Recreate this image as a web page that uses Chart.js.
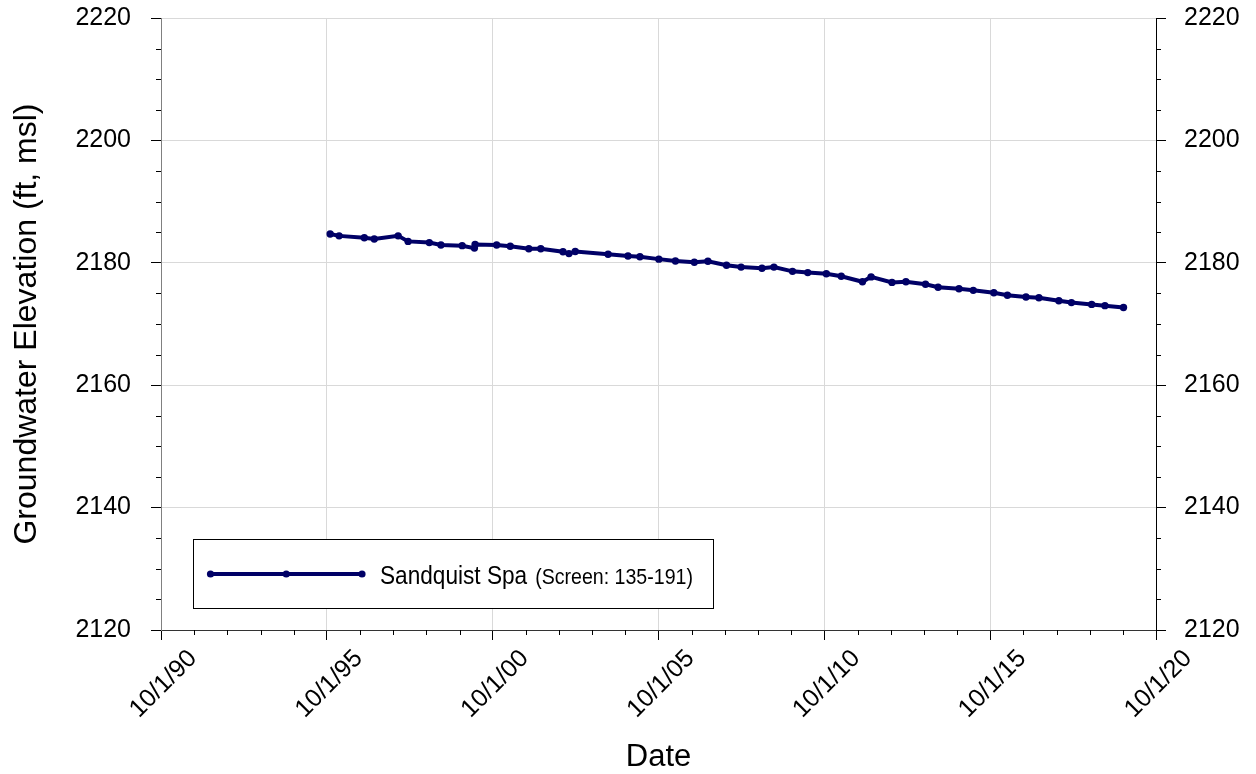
<!DOCTYPE html>
<html>
<head>
<meta charset="utf-8">
<title>Sandquist Spa groundwater elevation</title>
<script src="https://cdn.jsdelivr.net/npm/chart.js@4.4.1/dist/chart.umd.min.js"></script>
<style>
  html, body { margin: 0; padding: 0; background: #fff; }
  #wrap { width: 1256px; height: 774px; }
</style>
</head>
<body>
<div id="wrap"><canvas id="chart" width="1256" height="774"></canvas></div>
<script>
/* Groundwater elevation hydrograph, Sandquist Spa well. */
const seriesName = "Sandquist Spa";
const screenNote = "(Screen: 135-191)";

// sample dates as decimal years
const sampleYears = [
  1995.85, 1996.12, 1996.88, 1997.18, 1997.90, 1998.20, 1998.84, 1999.19, 1999.83, 2000.20,
  2000.22, 2000.87, 2001.28, 2001.84, 2002.20, 2002.87, 2003.05, 2003.24, 2004.23, 2004.83,
  2005.19, 2005.76, 2006.26, 2006.83, 2007.24, 2007.80, 2008.24, 2008.87, 2009.23, 2009.79,
  2010.25, 2010.81, 2011.26, 2011.90, 2012.16, 2012.79, 2013.21, 2013.80, 2014.18, 2014.81,
  2015.24, 2015.86, 2016.27, 2016.83, 2017.22, 2017.82, 2018.20, 2018.81, 2019.21, 2019.77
];
const waterLevels = [
  2184.7, 2184.4, 2184.1, 2183.9, 2184.4, 2183.5, 2183.3, 2182.9, 2182.8, 2182.4,
  2183.0, 2182.9, 2182.7, 2182.3, 2182.3, 2181.8, 2181.5, 2181.85, 2181.4, 2181.1,
  2181.0, 2180.6, 2180.3, 2180.1, 2180.25, 2179.6, 2179.3, 2179.1, 2179.3, 2178.6,
  2178.4, 2178.2, 2177.8, 2176.9, 2177.7, 2176.8, 2176.9, 2176.5, 2176.0, 2175.75,
  2175.5, 2175.1, 2174.7, 2174.4, 2174.3, 2173.8, 2173.5, 2173.2, 2173.0, 2172.7
];

const xTickYears = [1990.75, 1995.75, 2000.75, 2005.75, 2010.75, 2015.75, 2020.75];
const xTickLabels = ["10/1/90", "10/1/95", "10/1/00", "10/1/05", "10/1/10", "10/1/15", "10/1/20"];
const yMin = 2120, yMax = 2220, yStep = 20, yMinorStep = 5;

const navy = "#000066";
const gridGrey = "#d9d9d9";
const fontFam = "'Liberation Sans', Arial, sans-serif";

// yearly minor ticks on x, 5 ft minor ticks on both y axes
const minorTicks = {
  id: "minorTicks",
  afterDraw(chart) {
    const { ctx, chartArea: a, scales } = chart;
    ctx.save();
    ctx.strokeStyle = "#000";
    ctx.lineWidth = 1;
    ctx.beginPath();
    for (let yr = xTickYears[0]; yr < xTickYears[xTickYears.length - 1]; yr += 1) {
      if (xTickYears.includes(yr)) continue;
      const px = Math.round(scales.x.getPixelForValue(yr)) + 0.5;
      ctx.moveTo(px, a.bottom); ctx.lineTo(px, a.bottom + 5);
    }
    for (let v = yMin; v <= yMax; v += yMinorStep) {
      if ((v - yMin) % yStep === 0) continue;
      const py = Math.round(scales.y.getPixelForValue(v)) + 0.5;
      ctx.moveTo(a.left - 5, py); ctx.lineTo(a.left, py);
      ctx.moveTo(a.right, py); ctx.lineTo(a.right + 5, py);
    }
    ctx.stroke();
    ctx.restore();
  }
};

// boxed legend in the lower-left of the plot, sample line with three markers
const boxLegend = {
  id: "boxLegend",
  afterDraw(chart) {
    const { ctx, chartArea: a } = chart;
    const bx = a.left + 32, by = a.bottom - 91, bw = 520, bh = 69;
    ctx.save();
    ctx.fillStyle = "#fff";
    ctx.fillRect(bx, by, bw, bh);
    ctx.strokeStyle = "#000";
    ctx.lineWidth = 1;
    ctx.strokeRect(bx + 0.5, by + 0.5, bw, bh);

    const ly = by + 35, x0 = bx + 17.5, x1 = bx + 169;
    ctx.strokeStyle = navy;
    ctx.lineWidth = 4;
    ctx.beginPath(); ctx.moveTo(x0, ly); ctx.lineTo(x1, ly); ctx.stroke();
    ctx.fillStyle = navy;
    [x0, (x0 + x1) / 2, x1].forEach((px) => { ctx.beginPath(); ctx.arc(px, ly, 3.6, 0, Math.PI * 2); ctx.fill(); });

    // condensed text, like the narrow face in the original
    ctx.fillStyle = "#000";
    ctx.textBaseline = "alphabetic";
    ctx.translate(bx + 187, by + 45);
    ctx.scale(0.87, 1);
    ctx.font = `26px ${fontFam}`;
    ctx.fillText(seriesName, 0, 0);
    const w = ctx.measureText(seriesName + " ").width;
    ctx.font = `22.5px ${fontFam}`;
    ctx.fillText(screenNote, w + 2, 0);
    ctx.restore();
  }
};

const yTickList = (s) => { const t = []; for (let v = yMin; v <= yMax; v += yStep) t.push({ value: v }); s.ticks = t; };
// fixed axis width; keep the label gap from pushing the plot top down
const yFit = (w) => (s) => { s.width = w; s.paddingTop = 18; s.paddingBottom = 15; };

new Chart(document.getElementById("chart"), {
  type: "line",
  data: {
    datasets: [{
      label: seriesName,
      data: sampleYears.map((x, i) => ({ x, y: waterLevels[i] })),
      borderColor: navy, backgroundColor: navy,
      borderWidth: 4, pointRadius: 3.7, pointHoverRadius: 3.7, pointBorderWidth: 0,
      tension: 0
    }]
  },
  options: {
    responsive: false, animation: false,
    layout: { padding: 0 },
    plugins: { legend: { display: false }, tooltip: { enabled: false } },
    scales: {
      x: {
        type: "linear", min: xTickYears[0], max: xTickYears[xTickYears.length - 1],
        afterBuildTicks: (s) => { s.ticks = xTickYears.map((v) => ({ value: v })); },
        afterFit: (s) => { s.height = 144; },
        ticks: {
          autoSkip: false, maxRotation: 45, minRotation: 45, padding: 4, labelOffset: 32,
          color: "#000", font: { family: fontFam, size: 25 },
          callback: (v, i) => xTickLabels[i]
        },
        grid: { color: gridGrey, tickColor: "#000", tickLength: 10, lineWidth: 1 },
        border: { color: "#333", width: 1 },
        title: { display: true, text: "Date", color: "#000", font: { family: fontFam, size: 31, lineHeight: 1 }, padding: { top: 0, bottom: 1 } }
      },
      y: {
        position: "left", min: yMin, max: yMax,
        afterBuildTicks: yTickList,
        afterFit: yFit(161),
        ticks: { padding: 20, color: "#000", font: { family: fontFam, size: 25 }, callback: (v) => String(v) },
        grid: { color: gridGrey, tickColor: "#000", tickLength: 10 },
        border: { color: "#808080", width: 1 },
        title: { display: true, text: "Groundwater Elevation (ft, msl)", color: "#000", font: { family: fontFam, size: 32 }, padding: { top: 8, bottom: 0 } }
      },
      y2: {
        position: "right", min: yMin, max: yMax,
        afterBuildTicks: yTickList,
        afterFit: yFit(100),
        ticks: { padding: 18, color: "#000", font: { family: fontFam, size: 25 }, callback: (v) => String(v) },
        grid: { drawOnChartArea: false, tickColor: "#000", tickLength: 10 },
        border: { color: "#000", width: 1 }
      }
    }
  },
  plugins: [minorTicks, boxLegend]
});
</script>
</body>
</html>
